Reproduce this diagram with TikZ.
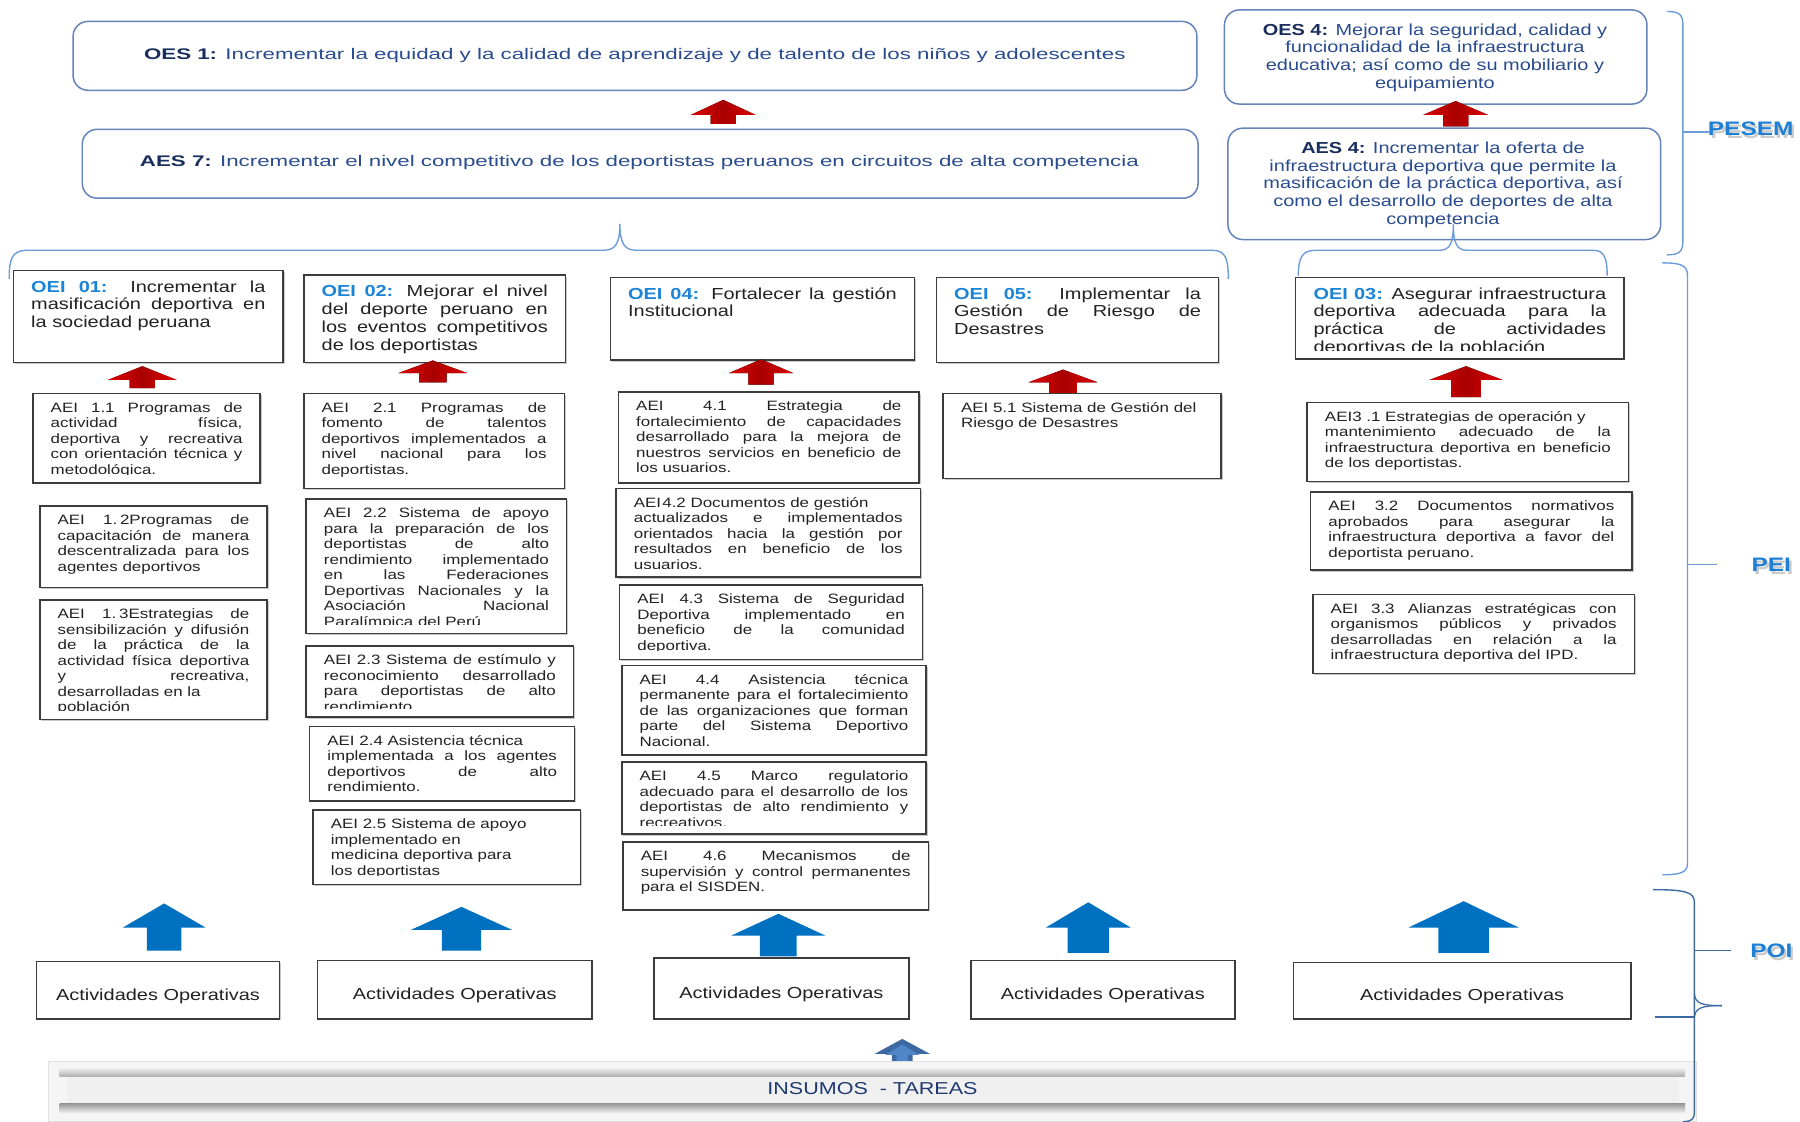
\documentclass[tikz,border=0pt]{standalone}
\usepackage{fontspec}
\setmainfont{Liberation Sans}[FakeStretch=1.25]
\newfontfamily\widefont{Liberation Sans}[FakeStretch=1.45]
\usetikzlibrary{shadows}
\definecolor{navy}{HTML}{1F3A70}
\definecolor{navylab}{HTML}{1A2E5E}
\definecolor{navytxt}{HTML}{2A4C8E}
\definecolor{rbord}{HTML}{6383BA}
\definecolor{oeiblue}{HTML}{1B84D6}
\definecolor{bord}{HTML}{3C3C3C}
\definecolor{txt}{HTML}{222222}
\definecolor{bracec}{HTML}{6C9BDA}
\definecolor{arrowblue}{HTML}{0070C0}
\definecolor{redA}{HTML}{E00000}
\definecolor{redB}{HTML}{A80000}
\definecolor{lblblue}{HTML}{1E80D4}
\definecolor{insout}{HTML}{3D69A3}
\definecolor{insin}{HTML}{4F86C8}
\hyphenpenalty=10000
\exhyphenpenalty=10000
\tolerance=9999
\hbadness=10000
\newcommand\aeif{\fontsize{11.8}{13.5}\selectfont}
\newcommand\oeif{\fontsize{13.9}{15.5}\selectfont}
\newcommand\oesf{\fontsize{13.9}{15.4}\selectfont}
\newcommand\lab[1]{\textcolor{oeiblue}{\textbf{#1}}}
\newcommand\toplab[1]{\textcolor{navylab}{\textbf{#1}}}
% box node: style, name, x1, y1, x2, y2
\newcommand\boxnode[6]{%
  \node[#1, anchor=north west, inner sep=0pt, minimum width={#5-#3}, minimum height={#6-#4}] (#2) at (#3,#4) {};}
% clipped justified text: name, x1, y1, x2, y2, font, baseline offset, text
\newcommand\cliptext[8]{%
  \begin{scope}
  \clip (#2,#3) rectangle (#4,{#5-7});
  \node[anchor=base west, inner sep=0pt, text width={#4-#2-31}, align=justify, font=#6, text=txt] (#1) at ({#2+16},{#3+#7}) {#8};
  \end{scope}}
\newcommand\aei[6]{\boxnode{obox}{#1}{#2}{#3}{#4}{#5}\cliptext{#1t}{#2}{#3}{#4}{#5}{\aeif}{17}{#6}}
\newcommand\oei[6]{\boxnode{obox}{#1}{#2}{#3}{#4}{#5}\cliptext{#1t}{#2}{#3}{#4}{#5}{\oeif}{19.5}{#6}}
% block arrow: style, cx, ytop, yhead, ybot, half head, half shaft
\newcommand\barrow[7]{%
  \fill[#1] (#2,#3) -- ({#2+#6},#4) -- ({#2+#7},#4) -- ({#2+#7},#5) -- ({#2-#7},#5) -- ({#2-#7},#4) -- ({#2-#6},#4) -- cycle;}
\tikzset{
  rbox/.style={draw=rbord, line width=1.3pt, rounded corners=13pt, fill=white},
  obox/.style={draw=bord, line width=1.3pt, fill=white,
    drop shadow={shadow xshift=1.3pt, shadow yshift=-1.3pt, opacity=0.35, fill=black!60}},
  redarrow/.style={left color=redA, right color=redA, middle color=redB},
  bluearrow/.style={fill=arrowblue},
  bracepath/.style={draw=bracec, line width=1.2pt},
  sidelabel/.style={font=\fontsize{17}{20}\selectfont\bfseries, text=lblblue},
  sideshadow/.style={font=\fontsize{17}{20}\selectfont\bfseries, text=black!45, opacity=0.45},
  actbox/.style={draw=bord, line width=1.3pt, fill=white,
    drop shadow={shadow xshift=1.3pt, shadow yshift=-1.3pt, opacity=0.35, fill=black!60}},
  acttext/.style={font=\fontsize{13.9}{16}\selectfont, text=txt},
  toptext/.style={font=\widefont\fontsize{13.4}{15}\selectfont, text=navytxt},
}
\begin{document}
\begin{tikzpicture}[x=1pt,y=-1pt]
\useasboundingbox (0,0) rectangle (1568,977);
\fill[white] (0,0) rectangle (1568,977);

% ---------- PESEM level ----------
\boxnode{rbox}{oes1}{63}{18}{1042}{78}
\node[toptext] (oes1t) at (553,48) {\toplab{OES 1:} Incrementar la equidad y la calidad de aprendizaje y de talento de los niños y adolescentes};
\barrow{redarrow}{630}{87}{100}{108}{28}{11}
\boxnode{rbox}{aes7}{71}{112}{1043}{172}
\node[toptext] (aes7t) at (557,142) {\toplab{AES 7:} Incrementar el nivel competitivo de los deportistas peruanos en circuitos de alta competencia};

\boxnode{rbox}{oes4}{1066}{8}{1434}{90}
\node[font=\oesf, text=navytxt, align=center] (oes4t) at (1250,50) {\toplab{OES 4:} Mejorar la seguridad, calidad y\\funcionalidad de la infraestructura\\educativa; así como de su mobiliario y\\equipamiento};
\barrow{redarrow}{1268}{88}{100}{110}{28}{11}
\boxnode{rbox}{aes4}{1069}{111}{1446}{208}
\node[font=\oesf, text=navytxt, align=center] (aes4t) at (1257,161) {\toplab{AES 4:} Incrementar la oferta de\\infraestructura deportiva que permite la\\masificación de la práctica deportiva, así\\como el desarrollo de deportes de alta\\competencia};

% braces below AES 7 and AES 4
\path[bracepath] (8,243) .. controls (8,226) and (10,218) .. (24,218) -- (526,218) .. controls (536,218) and (540,212) .. (540,195) .. controls (540,212) and (544,218) .. (554,218) -- (1056,218) .. controls (1068,218) and (1070,226) .. (1070,243);
\path[bracepath] (1131,240) .. controls (1131,225) and (1134,218) .. (1146,218) -- (1254,218) .. controls (1263,218) and (1266,212) .. (1266,195) .. controls (1266,212) and (1269,218) .. (1278,218) -- (1388,218) .. controls (1398,218) and (1400,226) .. (1400,240);

% ---------- OEI level ----------
\oei{oei1}{11}{235}{246}{315}{\lab{OEI 01:} Incrementar la\linebreak masificación deportiva en\linebreak la sociedad peruana}
\oei{oei2}{264}{239}{492}{315}{\lab{OEI 02:} Mejorar el nivel\linebreak del deporte peruano en\linebreak los eventos competitivos\linebreak de los deportistas}
\oei{oei4}{531}{241}{796}{313}{\lab{OEI 04:} Fortalecer la gestión\linebreak Institucional}
\oei{oei5}{815}{241}{1061}{315}{\lab{OEI 05:} Implementar la\linebreak Gestión de Riesgo de\linebreak Desastres}
\oei{oei3}{1128}{241}{1414}{312}{\lab{OEI 03:} Asegurar infraestructura\linebreak deportiva adecuada para la\linebreak práctica de actividades\linebreak deportivas de la población}

\barrow{redarrow}{124}{319}{331}{338}{30}{11}
\barrow{redarrow}{377}{314}{325}{333}{30}{12}
\barrow{redarrow}{663}{313}{325}{335}{28}{11}
\barrow{redarrow}{926}{322}{333}{344}{30}{12}
\barrow{redarrow}{1277}{319}{331}{346}{32}{13}

% ---------- AEI level ----------
\aei{a11}{28}{342}{226}{420}{AEI 1.1 Programas de\linebreak actividad física,\linebreak deportiva y recreativa\linebreak con orientación técnica y\linebreak metodológica.}
\aei{a12}{34}{440}{232}{511}{AEI 1.\kern2.5pt 2Programas de\linebreak capacitación de manera\linebreak descentralizada para los\linebreak agentes deportivos}
\aei{a13}{34}{522}{232}{626}{AEI 1.\kern2.5pt 3Estrategias de\linebreak sensibilización y difusión\linebreak de la práctica de la\linebreak actividad física deportiva\linebreak y recreativa,\linebreak desarrolladas en la\newline población}

\aei{a21}{264}{342}{491}{425}{AEI 2.1 Programas de\linebreak fomento de talentos\linebreak deportivos implementados a\linebreak nivel nacional para los\linebreak deportistas.}
\aei{a22}{266}{434}{493}{551}{AEI 2.2 Sistema de apoyo\linebreak para la preparación de los\linebreak deportistas de alto\linebreak rendimiento implementado\linebreak en las Federaciones\linebreak Deportivas Nacionales y la\linebreak Asociación Nacional\linebreak Paralímpica del Perú}
\aei{a23}{266}{562}{499}{624}{AEI 2.3 Sistema de estímulo y\linebreak reconocimiento desarrollado\linebreak para deportistas de alto\linebreak rendimiento}
\aei{a24}{269}{632}{500}{697}{AEI 2.4 Asistencia técnica\newline implementada a los agentes\linebreak deportivos de alto\linebreak rendimiento.}
\aei{a25}{272}{705}{505}{770}{AEI 2.5 Sistema de apoyo\newline implementado en\newline medicina deportiva para\newline los deportistas}

\aei{a41}{538}{341}{800}{420}{AEI 4.1 Estrategia de\linebreak fortalecimiento de capacidades\linebreak desarrollado para la mejora de\linebreak nuestros servicios en beneficio de\linebreak los usuarios.}
\aei{a42}{536}{425}{801}{502}{AEI\kern1pt 4.2 Documentos de gestión\newline actualizados e implementados\linebreak orientados hacia la gestión por\linebreak resultados en beneficio de los\linebreak usuarios.}
\aei{a43}{539}{509}{803}{574}{AEI 4.3 Sistema de Seguridad\linebreak Deportiva implementado en\linebreak beneficio de la comunidad\linebreak deportiva.}
\aei{a44}{541}{579}{806}{657}{AEI 4.4 Asistencia técnica\linebreak permanente para el fortalecimiento\linebreak de las organizaciones que forman\linebreak parte del Sistema Deportivo\linebreak Nacional.}
\aei{a45}{541}{663}{806}{726}{AEI 4.5 Marco regulatorio\linebreak adecuado para el desarrollo de los\linebreak deportistas de alto rendimiento y\linebreak recreativos.}
\aei{a46}{542}{733}{808}{792}{AEI 4.6 Mecanismos de\linebreak supervisión y control permanentes\linebreak para el SISDEN.}

\aei{a51}{821}{342}{1063}{416}{AEI 5.1 Sistema de Gestión del\newline Riesgo de Desastres}

\aei{a31}{1138}{350}{1418}{419}{AEI3 .1 Estrategias de operación y\newline mantenimiento adecuado de la\linebreak infraestructura deportiva en beneficio\linebreak de los deportistas.}
\aei{a32}{1141}{428}{1421}{496}{AEI 3.2 Documentos normativos\linebreak aprobados para asegurar la\linebreak infraestructura deportiva a favor del\linebreak deportista peruano.}
\aei{a33}{1143}{517}{1423}{586}{AEI 3.3 Alianzas estratégicas con\linebreak organismos públicos y privados\linebreak desarrolladas en relación a la\linebreak infraestructura deportiva del IPD.}

% ---------- POI level ----------
\barrow{bluearrow}{143}{787}{808}{828}{36}{15}
\barrow{bluearrow}{402}{790}{810}{828}{44}{17}
\barrow{bluearrow}{678}{796}{815}{833}{41}{16}
\barrow{bluearrow}{948}{786}{808}{830}{37}{18}
\barrow{bluearrow}{1275}{785}{808}{830}{48}{22}

\boxnode{actbox}{act1}{31}{837}{243}{887}
\boxnode{actbox}{act2}{276}{836}{515}{887}
\boxnode{actbox}{act4}{569}{834}{791}{887}
\boxnode{actbox}{act5}{845}{836}{1075}{887}
\boxnode{actbox}{act3}{1126}{838}{1420}{887}
\foreach \n in {act1,act2,act4,act5,act3}
  \node[acttext] (\n t) at ([yshift=-5pt]\n.center) {Actividades Operativas};

% ---------- INSUMOS bar ----------
\barrow{fill=insout}{786}{905}{918}{928}{24}{9}
\barrow{fill=insin}{786}{910}{919}{926}{15}{5}
\fill[black!4] (42,925) rectangle (1478,977);
\draw[black!12, line width=0.8pt] (42,925) rectangle (1478,977);
\shade[top color=black!5, bottom color=black!32] (52,930) rectangle (1468,938);
\fill[black!6] (58,938) rectangle (1463,961);
\shade[top color=black!42, bottom color=black!8] (52,961) rectangle (1468,969);
\node[font=\fontsize{15}{18}\selectfont, text=navy] (insumos) at (760,948) {INSUMOS\ \ - TAREAS};

% ---------- side braces ----------
\path[bracepath] (1452,10) .. controls (1462,10) and (1466,12) .. (1466,22) -- (1466,210) .. controls (1466,220) and (1462,222) .. (1452,222);
\path[bracepath] (1466,115) -- (1489,115);
\path[bracepath] (1448,229) .. controls (1464,229) and (1470,231) .. (1470,240) -- (1470,752) .. controls (1470,760) and (1464,762) .. (1448,762);
\path[bracepath] (1470,492) -- (1496,492);
\path[draw=insout, line width=1.2pt] (1440,775) .. controls (1468,775) and (1476,777) .. (1476,786) -- (1476,968) .. controls (1476,975) and (1474,977) .. (1466,977);
\path[draw=insout, line width=1.1pt] (1476,828) -- (1508,828);
\path[draw=insout, line width=1.1pt] (1476,866) .. controls (1477,874) and (1482,876) .. (1500,876);
\path[draw=insout, line width=1.1pt] (1476,886) .. controls (1477,878) and (1482,876) .. (1500,876);
\path[draw=insout, line width=1.1pt] (1442,886) -- (1476,886);

\node[sideshadow] at (1527,114.5) {PESEM};
\node[sidelabel] (pesem) at (1525,112) {PESEM};
\node[sideshadow] at (1545,494.5) {PEI};
\node[sidelabel] (pei) at (1543,492) {PEI};
\node[sideshadow] at (1545,830.5) {POI};
\node[sidelabel] (poi) at (1543,828) {POI};
\end{tikzpicture}
\end{document}
